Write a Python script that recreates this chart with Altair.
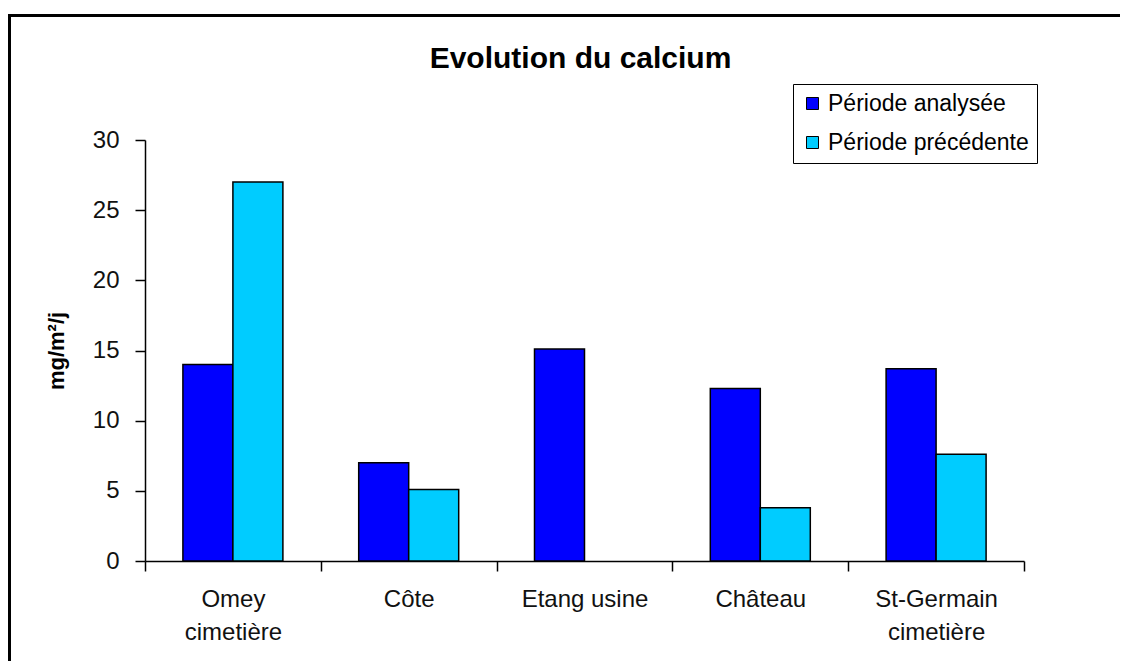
import altair as alt
import pandas as pd

categories = ["Omey\ncimetière", "Côte", "Etang usine", "Château", "St-Germain\ncimetière"]
periode_analysee = [14.0, 7.0, 15.1, 12.3, 13.7]
periode_precedente = [27.0, 5.1, None, 3.8, 7.6]
series = ["Période analysée", "Période précédente"]
colors = ["#0000FF", "#00CCFF"]
y_ticks = [0, 5, 10, 15, 20, 25, 30]

rows = []
for site, a, p in zip(categories, periode_analysee, periode_precedente):
    rows.append({"site": site, "serie": series[0], "valeur": a})
    if p is not None:
        rows.append({"site": site, "serie": series[1], "valeur": p})
df = pd.DataFrame(rows)

W, H = 879, 421
FONT = "Liberation Sans"

frame = alt.Chart(pd.DataFrame({"k": [0]})).mark_rect(
    fillOpacity=0, stroke="black", strokeWidth=3
).encode(
    x=alt.value(-135.5), x2=alt.value(W + 300),
    y=alt.value(-124.5), y2=alt.value(H + 300),
)

bars = alt.Chart(df).mark_bar(stroke="black", strokeWidth=1.5).encode(
    x=alt.X(
        "site:N", sort=categories,
        scale=alt.Scale(paddingInner=0, paddingOuter=0),
        axis=alt.Axis(
            title=None, labelAngle=0, tickBand="extent",
            labelExpr="split(datum.label, '\\n')",
            labelLineHeight=33, labelPadding=16, tickSize=10,
            labelBaseline="top",
        ),
    ),
    xOffset=alt.XOffset(
        "serie:N", sort=series,
        scale=alt.Scale(paddingOuter=0.758, paddingInner=0),
    ),
    y=alt.Y(
        "valeur:Q",
        scale=alt.Scale(domain=[0, 30]),
        axis=alt.Axis(
            values=y_ticks, grid=False, title="mg/m²/j",
            titleFont=FONT, titleFontSize=22, titleFontWeight="bold",
            titleColor="black", titlePadding=24,
            tickSize=10, labelPadding=16,
        ),
    ),
    color=alt.Color(
        "serie:N", sort=series,
        scale=alt.Scale(domain=series, range=colors),
        legend=alt.Legend(
            title=None, orient="none", legendX=648, legendY=-56,
            strokeColor="black", padding=8, rowPadding=15,
            symbolType="square", symbolSize=144,
            symbolStrokeColor="black", symbolStrokeWidth=1,
            labelFont=FONT, labelFontSize=23, labelColor="black",
            labelLimit=400,
        ),
    ),
)

chart = alt.layer(frame, bars).properties(
    width=W, height=H,
    autosize=alt.AutoSizeParams(type="none"),
    padding={"left": 137, "top": 132, "right": 96, "bottom": 100},
    title=alt.TitleParams(
        "Evolution du calcium", font=FONT, fontSize=30, fontWeight="bold",
        color="black", anchor="middle", dy=64, dx=-4,
    ),
).configure_view(stroke=None).configure_axis(
    domainColor="black", tickColor="black", domainWidth=1.5, tickWidth=1.5,
    labelFont=FONT, labelFontSize=24, labelColor="#111",
)

chart.save("out.html", embed_options={"renderer": "svg", "actions": False})
